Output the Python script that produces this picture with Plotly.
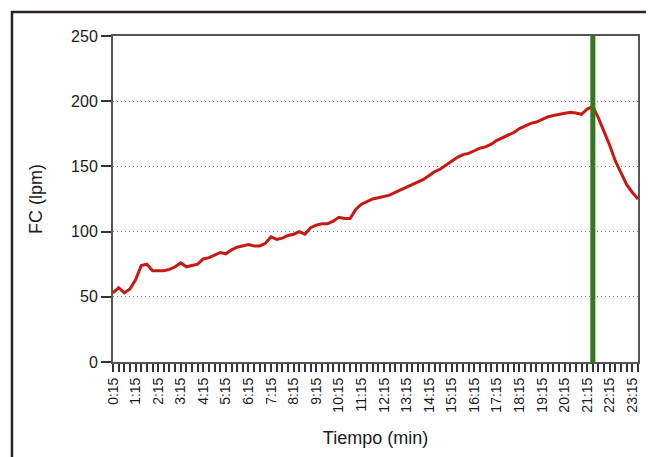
import plotly.graph_objects as go

# Heart rate samples every 15 s, from 0:15 to 23:30
fc_values = [53, 57, 53, 56, 63, 74, 75, 70, 70, 70,
             71, 73, 76, 73, 74, 75, 79, 80, 82, 84,
             83, 86, 88, 89, 90, 89, 89, 91, 96, 94,
             95, 97, 98, 100, 98, 103, 105, 106, 106, 108,
             111, 110, 110, 117, 121, 123, 125, 126, 127, 128,
             130, 132, 134, 136, 138, 140, 143, 146, 148, 151,
             154, 157, 159, 160, 162, 164, 165, 167, 170, 172,
             174, 176, 179, 181, 183, 184, 186, 188, 189, 190,
             191, 191.5, 191, 190, 194, 196, 187, 177, 166, 154,
             145, 136, 130, 125]
sample_idx = list(range(len(fc_values)))
tick_idx = list(range(0, 93, 4))
tick_labels = [f"{m}:15" for m in range(24)]
marker_idx = 85  # end of exercise

fig = go.Figure()
fig.add_trace(go.Scatter(x=sample_idx, y=fc_values, mode="lines",
                         line=dict(color="#c81812", width=3),
                         showlegend=False, hoverinfo="skip"))
fig.add_trace(go.Scatter(x=[marker_idx, marker_idx], y=[0, 250], mode="lines",
                         line=dict(color="#2f7a1c", width=5),
                         showlegend=False, hoverinfo="skip"))

fig.update_layout(
    width=646, height=449,
    margin=dict(l=105, r=16, t=28, b=95),
    paper_bgcolor="white", plot_bgcolor="white",
    font=dict(family="Liberation Sans, Arial, sans-serif", color="#1a1a1a"),
    xaxis=dict(range=[0, 93], tickmode="array", tickvals=tick_idx, ticktext=tick_labels,
               tickangle=-90, tickfont=dict(size=14, color="#1a1a1a"),
               ticks="outside", ticklen=8, tickcolor="#333", tickwidth=1.5,
               minor=dict(dtick=1, tick0=0, ticks="outside", ticklen=8, tickcolor="#333", tickwidth=1.5, showgrid=False),
               showline=True, linecolor="#555", linewidth=2, mirror=True,
               showgrid=False, zeroline=False,
               title=dict(text="Tiempo (min)", font=dict(size=18, color="#1a1a1a"), standoff=20)),
    yaxis=dict(range=[0, 250], tickvals=[0, 50, 100, 150, 200, 250],
               tickfont=dict(size=16, color="#1a1a1a"),
               ticks="outside", ticklen=10, tickcolor="#333", tickwidth=2,
               showline=True, linecolor="#555", linewidth=2, mirror=True,
               showgrid=True, gridcolor="#7a86a0", griddash="1px,3px", gridwidth=1,
               zeroline=False,
               title=dict(text="FC (lpm)", font=dict(size=18, color="#1a1a1a"), standoff=24)),
    shapes=[dict(type="rect", xref="paper", yref="paper",
                 x0=-0.1924, y0=-0.5, x1=1.2, y1=1.0736,
                 line=dict(color="#2a2030", width=2.5), layer="below")],
)

fig.write_html("out.html")
